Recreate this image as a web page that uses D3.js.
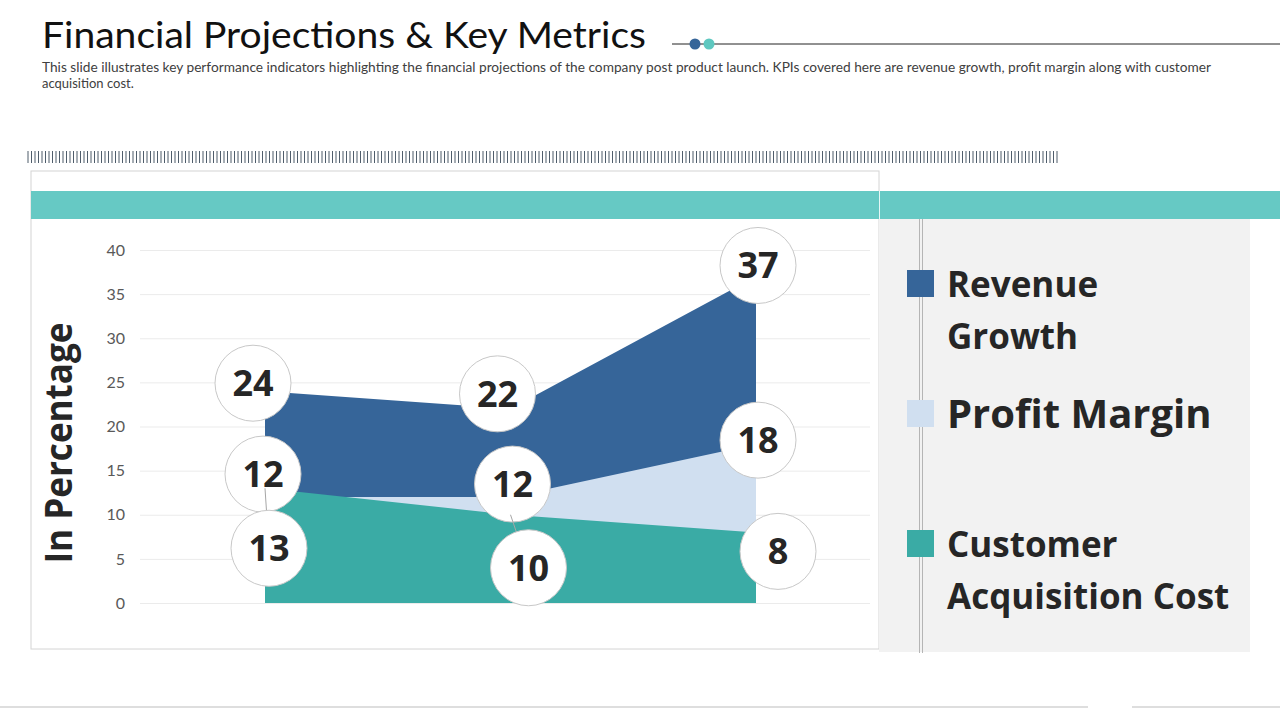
<!DOCTYPE html>
<html>
<head>
<meta charset="utf-8">
<script src="https://cdn.jsdelivr.net/npm/d3@7"></script>
<style>
  html, body { margin: 0; padding: 0; background: #fff; }
  svg { display: block; }
</style>
</head>
<body>
<div id="draw"></div>
<script>
// chart values
const periods = ["P1", "P2", "P3"];
const revenueGrowth = [24, 22, 37];
const profitMargin = [12, 12, 18];
const acquisitionCost = [13, 10, 8];
const yTicks = [0, 5, 10, 15, 20, 25, 30, 35, 40];
const seriesNames = ["Revenue Growth", "Profit Margin", "Customer Acquisition Cost"];
const legendLines = [["Revenue", "Growth"], ["Profit Margin"], ["Customer", "Acquisition Cost"]];

const W = 1280, H = 720;
const colors = ["#366599", "#d0dff0", "#3aaba5"];

const svg = d3.select("#draw").append("svg")
    .attr("width", W)
    .attr("height", H);

// ---- header ----
svg.append("text")
    .attr("x", 42).attr("y", 48)
    .attr("font-family", "Lato, sans-serif")
    .attr("font-size", 37)
    .attr("fill", "#111")
    .attr("textLength", 604)
    .attr("lengthAdjust", "spacingAndGlyphs")
    .text("Financial Projections & Key Metrics");

svg.append("line")
    .attr("x1", 672).attr("x2", W).attr("y1", 44).attr("y2", 44)
    .attr("stroke", "#222").attr("stroke-width", 1);
svg.append("circle").attr("cx", 695).attr("cy", 44).attr("r", 5.5).attr("fill", "#366599");
svg.append("circle").attr("cx", 709).attr("cy", 44).attr("r", 5.5).attr("fill", "#5ec8c0");

const sub = svg.append("g")
    .attr("font-family", "Lato, sans-serif")
    .attr("font-size", 13)
    .attr("fill", "#404040");
sub.append("text").attr("x", 42).attr("y", 72)
    .attr("textLength", 1169).attr("lengthAdjust", "spacingAndGlyphs")
    .text("This slide illustrates key performance indicators highlighting the financial projections of the company post product launch. KPIs covered here are revenue growth, profit margin along with customer");
sub.append("text").attr("x", 42).attr("y", 88)
    .text("acquisition cost.");

// striped strip
svg.append("g").selectAll("line")
    .data(d3.range(28, 1058, 3.5))
    .join("line")
    .attr("x1", d => d).attr("x2", d => d)
    .attr("y1", 151).attr("y2", 163)
    .attr("stroke", "#4f5d6b").attr("stroke-width", 1);

// ---- frames ----
svg.append("rect")
    .attr("x", 31).attr("y", 171).attr("width", 848).attr("height", 478)
    .attr("fill", "#fff").attr("stroke", "#d4d4d4");

svg.append("rect")
    .attr("x", 879).attr("y", 219).attr("width", 371).attr("height", 433)
    .attr("fill", "#f2f2f2");

svg.append("rect")
    .attr("x", 31).attr("y", 191).attr("width", W - 31).attr("height", 28)
    .attr("fill", "#66c9c4");
svg.append("line")
    .attr("x1", 879.5).attr("x2", 879.5).attr("y1", 191).attr("y2", 219)
    .attr("stroke", "#e6f7f6").attr("stroke-width", 1);

[919.5, 922.5].forEach(x => {
    svg.append("line")
        .attr("x1", x).attr("x2", x).attr("y1", 219).attr("y2", 653)
        .attr("stroke", "#b5b5b5").attr("stroke-width", 1);
});

svg.append("line").attr("x1", 0).attr("x2", 1088).attr("y1", 707).attr("y2", 707)
    .attr("stroke", "#bdbdbd").attr("stroke-width", 1.2);
svg.append("line").attr("x1", 1132).attr("x2", W).attr("y1", 707).attr("y2", 707)
    .attr("stroke", "#bdbdbd").attr("stroke-width", 1.2);

// ---- chart ----
const x = d3.scalePoint().domain(periods).range([265, 756]);
const y = d3.scaleLinear().domain([0, 40]).range([603, 250]);

const yAxis = svg.append("g")
    .attr("transform", "translate(140,0)")
    .call(d3.axisLeft(y).tickValues(yTicks).tickSize(-730).tickPadding(15));
yAxis.select(".domain").remove();
yAxis.selectAll(".tick line").attr("stroke", "#ebebeb");
yAxis.selectAll(".tick text")
    .attr("font-family", "Lato, sans-serif")
    .attr("font-size", 16)
    .attr("fill", "#595959");

svg.append("text")
    .attr("transform", "translate(72,443) rotate(-90)")
    .attr("text-anchor", "middle")
    .attr("font-family", "'Open Sans', sans-serif")
    .attr("font-weight", 700)
    .attr("font-size", 37)
    .attr("textLength", 241)
    .attr("lengthAdjust", "spacingAndGlyphs")
    .attr("fill", "#262626")
    .text("In Percentage");

const series = [revenueGrowth, profitMargin, acquisitionCost];

const area = d3.area()
    .x((d, i) => x(periods[i]))
    .y0(y(0))
    .y1(d => y(d));

svg.append("g").selectAll("path")
    .data(series)
    .join("path")
    .attr("d", d => area(d))
    .attr("fill", (d, i) => colors[i]);

// label bubbles, nudged off the points like the slide
const labelOffsets = [
    [[-12, -8], [-13, -15], [2, -11]],
    [[-2, -23], [2, -13], [2, -4]],
    [[4, 60], [18, 53], [22, 19]]
];

series.forEach((vals, s) => {
    const g = svg.append("g");
    vals.forEach((v, i) => {
        const px = x(periods[i]), py = y(v);
        const cx = px + labelOffsets[s][i][0], cy = py + labelOffsets[s][i][1];
        if (s === 2 && i < 2) {
            g.append("line")
                .attr("x1", px).attr("y1", py)
                .attr("x2", cx).attr("y2", cy)
                .attr("stroke", "#a6a6a6").attr("stroke-width", 1);
        }
        g.append("circle")
            .attr("cx", cx).attr("cy", cy).attr("r", 38)
            .attr("fill", "#fff").attr("stroke", "#c8c8c8").attr("stroke-width", 1);
        g.append("text")
            .attr("x", cx).attr("y", cy + 13)
            .attr("text-anchor", "middle")
            .attr("font-family", "'Open Sans', sans-serif")
            .attr("font-weight", 700)
            .attr("font-size", 36)
            .attr("fill", "#262626")
            .text(v);
    });
});

// ---- legend ----
const legendTop = [270, 400, 530];
const legend = svg.append("g");
seriesNames.forEach((name, i) => {
    legend.append("rect")
        .attr("x", 907).attr("y", legendTop[i]).attr("width", 27).attr("height", 27)
        .attr("fill", colors[i]);
    const t = legend.append("text")
        .attr("font-family", "'Open Sans', sans-serif")
        .attr("font-weight", 700)
        .attr("font-size", i === 1 ? 40 : 35)
        .attr("fill", "#262626");
    legendLines[i].forEach((ln, j) => {
        t.append("tspan")
            .attr("x", 947)
            .attr("y", legendTop[i] + 27 + j * 52 + (i === 1 ? 1 : 0))
            .text(ln);
    });
});
</script>
</body>
</html>
